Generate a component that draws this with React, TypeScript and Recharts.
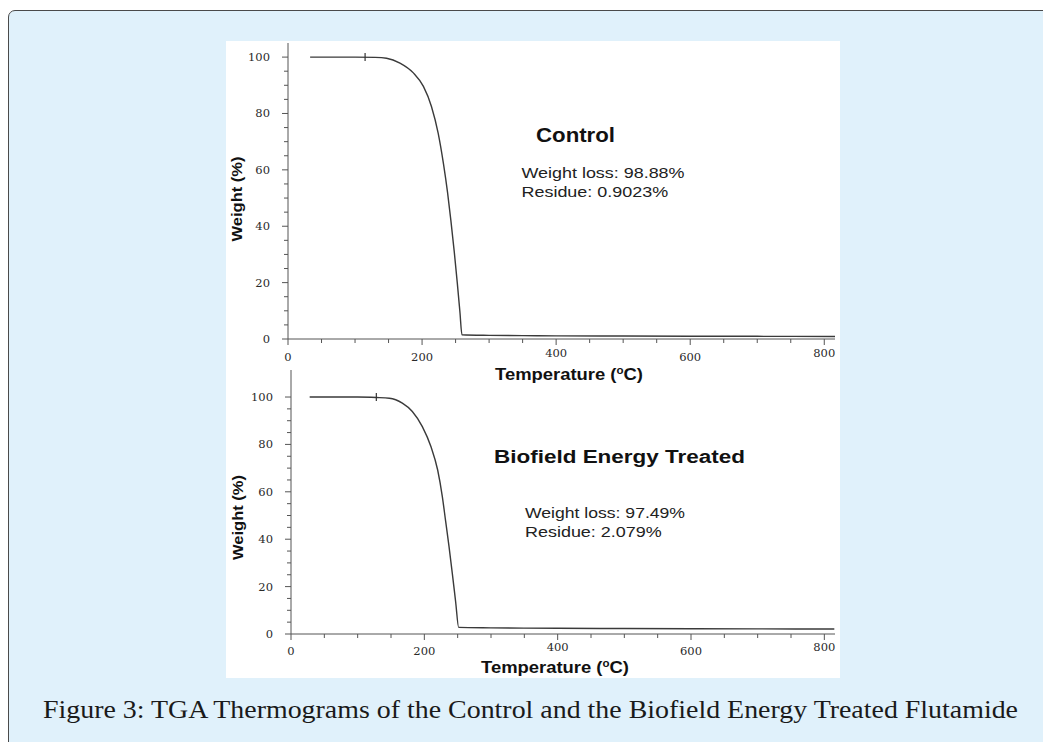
import React from 'react';
import { LineChart, Line, XAxis, YAxis, ReferenceDot } from 'recharts';

// ---- data ----
const controlTemp = [33, 60, 100, 130, 147, 167, 187, 202, 214, 224, 232, 238, 243, 248, 252.5, 256.5, 259.5, 300, 350, 400, 500, 600, 700, 816];
const controlWeight = [100, 100, 100, 99.9, 99.6, 97.9, 94.4, 89.6, 82.5, 73, 62, 52, 42, 31, 20, 9.5, 1.5, 1.3, 1.2, 1.1, 1.05, 1.0, 0.95, 0.9];
const treatedTemp = [28, 60, 100, 128, 147.5, 167, 182, 197, 210, 220, 227, 232, 237, 242, 247, 251.5, 300, 400, 500, 600, 700, 815];
const treatedWeight = [100, 100, 100, 99.8, 99.5, 97.4, 93.9, 87.5, 79, 69.2, 58, 47.5, 37, 25.5, 13.5, 2.8, 2.6, 2.4, 2.3, 2.2, 2.15, 2.1];

const xTicks = [0, 50, 100, 150, 200, 250, 300, 350, 400, 450, 500, 550, 600, 650, 700, 750, 800];
const xLabelStep = 200;
const yTicks = [0, 5, 10, 15, 20, 25, 30, 35, 40, 45, 50, 55, 60, 65, 70, 75, 80, 85, 90, 95, 100];
const yLabelStep = 20;
const raisedXLabels = [400, 800];

const controlMarker = { t: 115, w: 100 };
const treatedMarker = { t: 128, w: 100 };

const controlTitle = 'Control';
const controlLoss = 'Weight loss: 98.88%';
const controlResidue = 'Residue: 0.9023%';
const treatedTitle = 'Biofield Energy Treated';
const treatedLoss = 'Weight loss: 97.49%';
const treatedResidue = 'Residue: 2.079%';
const yTitle = 'Weight (%)';
const caption = 'Figure 3: TGA Thermograms of the Control and the Biofield Energy Treated Flutamide';

const controlData = controlTemp.map((t, i) => ({ t, w: controlWeight[i] }));
const treatedData = treatedTemp.map((t, i) => ({ t, w: treatedWeight[i] }));

const AXIS = '#555';
const TICKTXT = '#2a2a2a';
const SERIF = '"DejaVu Serif", serif';
const SANS = '"Liberation Sans", Arial, sans-serif';

const makeXTick = (base: number) => (props: any) => {
  const { x, y, payload } = props;
  const v = payload.value;
  const major = v % xLabelStep === 0;
  const raised = raisedXLabels.includes(v);
  return (
    <g>
      <line x1={x} x2={x} y1={y} y2={y + (major ? 6 : 4)} stroke={AXIS} strokeWidth={1} />
      {major && (
        <text x={x} y={y + (raised ? base - 4 : base)} textAnchor="middle" fontFamily={SERIF} fontSize={11.5} fill={TICKTXT}>
          {v}
        </text>
      )}
    </g>
  );
};

const YTick = (props: any) => {
  const { x, y, payload } = props;
  const v = payload.value;
  const major = v % yLabelStep === 0;
  return (
    <g>
      <line x1={x} x2={x - (major ? 6 : 4)} y1={y} y2={y} stroke={AXIS} strokeWidth={1} />
      {major && (
        <text x={x - 18} y={y + 4} textAnchor="end" fontFamily={SERIF} fontSize={11.5} fill={TICKTXT}>
          {v}
        </text>
      )}
    </g>
  );
};

const markerShape = (p: any) => (
  <line x1={p.cx} x2={p.cx} y1={p.cy - 4} y2={p.cy + 4} stroke="#333" strokeWidth={1.2} />
);

const Panel = ({ data, marker, yMax, yAxisWidth, top, height, marginTop, xBase }: any) => (
  <div style={{ position: 'absolute', left: 226, top, width: 614, height }}>
    <LineChart width={614} height={height} data={data} margin={{ top: marginTop, right: 5, bottom: 0, left: 0 }}>
      <XAxis
        dataKey="t"
        type="number"
        domain={[0, 816]}
        ticks={xTicks}
        interval={0}
        tickSize={0}
        tickMargin={0}
        tickLine={false}
        height={37}
        axisLine={{ stroke: AXIS, strokeWidth: 1 }}
        tick={makeXTick(xBase)}
        allowDataOverflow
      />
      <YAxis
        type="number"
        domain={[0, yMax]}
        ticks={yTicks}
        interval={0}
        tickSize={0}
        tickMargin={0}
        tickLine={false}
        width={yAxisWidth}
        axisLine={{ stroke: AXIS, strokeWidth: 1 }}
        tick={YTick}
        allowDataOverflow
      />
      <Line type="monotone" dataKey="w" stroke="#3a3a3a" strokeWidth={1.4} dot={false} isAnimationActive={false} />
      <ReferenceDot x={marker.t} y={marker.w} r={0} shape={markerShape} ifOverflow="visible" />
    </LineChart>
  </div>
);

export default function App() {
  return (
    <div style={{ position: 'absolute', left: 0, top: 0, width: 1043, height: 742, overflow: 'hidden', background: '#ffffff' }}>
      <div
        style={{
          position: 'absolute',
          left: 8,
          top: 10,
          width: 1100,
          height: 800,
          background: '#e0f1fb',
          border: '1.5px solid #4a4a4a',
          borderRadius: 7,
          boxSizing: 'border-box',
        }}
      />
      <div style={{ position: 'absolute', left: 226, top: 41, width: 614, height: 637, background: '#ffffff' }} />

      <Panel data={controlData} marker={controlMarker} yMax={105} yAxisWidth={62} top={41} height={335} marginTop={2} xBase={22} />
      <Panel data={treatedData} marker={treatedMarker} yMax={111.4} yAxisWidth={65} top={366} height={305} marginTop={4} xBase={21} />

      <svg width={1043} height={742} style={{ position: 'absolute', left: 0, top: 0, pointerEvents: 'none' }}>
        {/* top panel annotations */}
        <text x={536} y={141.7} fontFamily={SANS} fontWeight="bold" fontSize={20} fill="#111" textLength={79} lengthAdjust="spacingAndGlyphs">
          {controlTitle}
        </text>
        <text x={521.5} y={178.3} fontFamily={SANS} fontSize={15.5} fill="#222" textLength={163} lengthAdjust="spacingAndGlyphs">
          {controlLoss}
        </text>
        <text x={521.5} y={197.3} fontFamily={SANS} fontSize={15.5} fill="#222" textLength={146.6} lengthAdjust="spacingAndGlyphs">
          {controlResidue}
        </text>
        <text x={495} y={380} fontFamily={SANS} fontWeight="bold" fontSize={16} fill="#111" textLength={148} lengthAdjust="spacingAndGlyphs">
          Temperature (<tspan dy={-6} fontSize={10}>o</tspan><tspan dy={6}>C)</tspan>
        </text>
        <text
          x={236.5}
          y={199}
          transform="rotate(-90 236.5 199)"
          textAnchor="middle"
          dominantBaseline="central"
          fontFamily={SANS}
          fontWeight="bold"
          fontSize={15.5}
          fill="#111"
          textLength={85}
          lengthAdjust="spacingAndGlyphs"
        >
          {yTitle}
        </text>

        {/* bottom panel annotations */}
        <text x={494} y={463.3} fontFamily={SANS} fontWeight="bold" fontSize={18} fill="#111" textLength={251} lengthAdjust="spacingAndGlyphs">
          {treatedTitle}
        </text>
        <text x={525} y={518.3} fontFamily={SANS} fontSize={15.5} fill="#222" textLength={160} lengthAdjust="spacingAndGlyphs">
          {treatedLoss}
        </text>
        <text x={525} y={537.3} fontFamily={SANS} fontSize={15.5} fill="#222" textLength={136.7} lengthAdjust="spacingAndGlyphs">
          {treatedResidue}
        </text>
        <text x={481} y={673} fontFamily={SANS} fontWeight="bold" fontSize={16} fill="#111" textLength={148} lengthAdjust="spacingAndGlyphs">
          Temperature (<tspan dy={-6} fontSize={10}>o</tspan><tspan dy={6}>C)</tspan>
        </text>
        <text
          x={237.5}
          y={517.5}
          transform="rotate(-90 237.5 517.5)"
          textAnchor="middle"
          dominantBaseline="central"
          fontFamily={SANS}
          fontWeight="bold"
          fontSize={15.5}
          fill="#111"
          textLength={85}
          lengthAdjust="spacingAndGlyphs"
        >
          {yTitle}
        </text>

        {/* caption */}
        <text x={43} y={717.5} fontFamily='"Liberation Serif", serif' fontSize={26} fill="#1a1a1a" textLength={975} lengthAdjust="spacingAndGlyphs">
          {caption}
        </text>
      </svg>
    </div>
  );
}
